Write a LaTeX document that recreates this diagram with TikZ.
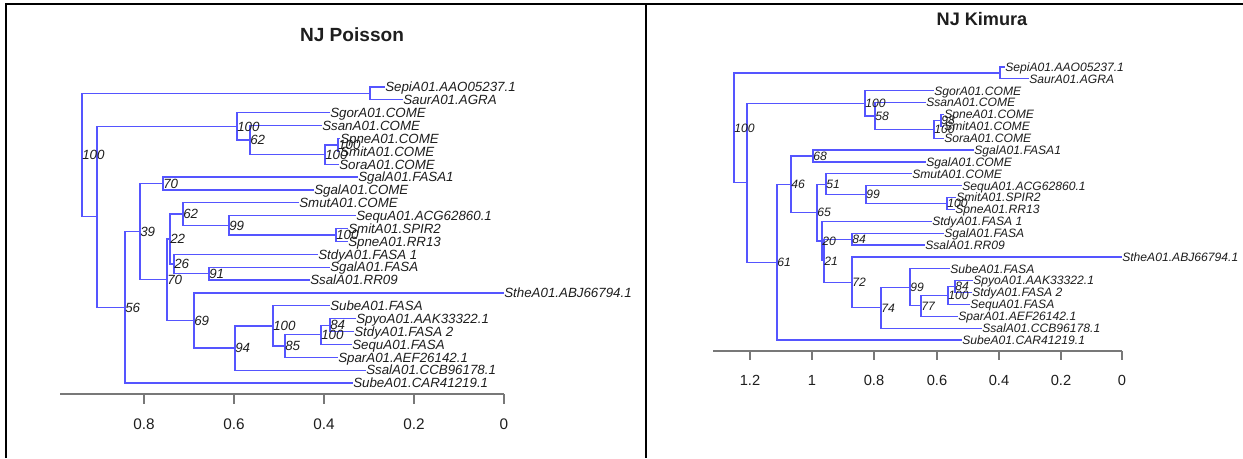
\documentclass[tikz,border=0pt]{standalone}
\usepackage{fontspec}
\setmainfont{Liberation Sans}
\definecolor{brc}{RGB}{85,85,255}
\definecolor{axg}{RGB}{120,120,120}
\definecolor{txt}{RGB}{30,30,30}
\newcommand\LY[1]{87+12.87*#1}
\newcommand\RY[1]{67+11.87*#1}
\tikzset{
  branch/.style={draw=brc, line width=0.9pt},
  tiplab/.style={anchor=west, inner sep=0pt, text height=7.2pt, text depth=0pt,
    font=\fontsize{10}{12}\selectfont\itshape, text=txt},
  bslab/.style={tiplab},
  rtiplab/.style={anchor=west, inner sep=0pt, text height=6.5pt, text depth=0pt,
    font=\fontsize{9.1}{11}\selectfont\itshape, text=txt},
  rbslab/.style={rtiplab},
  ttl/.style={font=\fontsize{14.3}{17}\selectfont\bfseries, text=txt, inner sep=0pt},
  rttl/.style={font=\fontsize{13.6}{16}\selectfont\bfseries, text=txt, inner sep=0pt},
  axlab/.style={font=\fontsize{11.5}{13}\selectfont, text=txt, inner sep=0pt},
  raxlab/.style={font=\fontsize{11}{13}\selectfont, text=txt, inner sep=0pt},
  axline/.style={draw=axg, line width=0.9pt},
  panelframe/.style={draw=black, line width=2pt}
}
\begin{document}
\begin{tikzpicture}[x=0.75pt, y=-0.75pt]
\useasboundingbox (0,0) rectangle (1243,458);
\fill[white] (0,0) rectangle (1243,458);
% frame
\draw[panelframe] (6,458) -- (6,4) -- (1243,4);
\draw[panelframe] (646,4) -- (646,458);

% ================= LEFT: NJ Poisson =================
\node[ttl] (ltitle) at (352,35) {NJ Poisson};
\coordinate (lR) at (82,{\LY{5.2954}});
\coordinate (lA) at (370,{\LY{0.5}});
\coordinate (lB) at (97,{\LY{10.0908}});
\coordinate (lC) at (237,{\LY{3.0625}});
\coordinate (lD) at (250,{\LY{4.125}});
\coordinate (lE) at (325,{\LY{5.25}});
\coordinate (lF) at (338,{\LY{4.5}});
\coordinate (lG) at (125,{\LY{17.1191}});
\coordinate (lH) at (140,{\LY{11.2383}});
\coordinate (lI) at (163,{\LY{7.5}});
\coordinate (lJ) at (167,{\LY{14.9766}});
\coordinate (lK) at (170,{\LY{11.8125}});
\coordinate (lM) at (183,{\LY{9.875}});
\coordinate (lO) at (229,{\LY{10.75}});
\coordinate (lP) at (336,{\LY{11.5}});
\coordinate (lN) at (174,{\LY{13.75}});
\coordinate (lQ) at (209,{\LY{14.5}});
\coordinate (lL) at (194,{\LY{18.1406}});
\coordinate (lS) at (235,{\LY{20.2813}});
\coordinate (lT) at (273,{\LY{18.5625}});
\coordinate (lU) at (285,{\LY{20.125}});
\coordinate (lV) at (321,{\LY{19.25}});
\coordinate (lW) at (330,{\LY{18.5}});

\node[tiplab] (lt0) at (385,{\LY{0}}) {SepiA01.AAO05237.1};
\node[tiplab] (lt1) at (403,{\LY{1}}) {SaurA01.AGRA};
\node[tiplab] (lt2) at (330,{\LY{2}}) {SgorA01.COME};
\node[tiplab] (lt3) at (322,{\LY{3}}) {SsanA01.COME};
\node[tiplab] (lt4) at (340,{\LY{4}}) {SpneA01.COME};
\node[tiplab] (lt5) at (340,{\LY{5}}) {SmitA01.COME};
\node[tiplab] (lt6) at (339,{\LY{6}}) {SoraA01.COME};
\node[tiplab] (lt7) at (358,{\LY{7}}) {SgalA01.FASA1};
\node[tiplab] (lt8) at (314,{\LY{8}}) {SgalA01.COME};
\node[tiplab] (lt9) at (299,{\LY{9}}) {SmutA01.COME};
\node[tiplab] (lt10) at (356,{\LY{10}}) {SequA01.ACG62860.1};
\node[tiplab] (lt11) at (348,{\LY{11}}) {SmitA01.SPIR2};
\node[tiplab] (lt12) at (348,{\LY{12}}) {SpneA01.RR13};
\node[tiplab] (lt13) at (318,{\LY{13}}) {StdyA01.FASA 1};
\node[tiplab] (lt14) at (330,{\LY{14}}) {SgalA01.FASA};
\node[tiplab] (lt15) at (310,{\LY{15}}) {SsalA01.RR09};
\node[tiplab] (lt16) at (504,{\LY{16}}) {StheA01.ABJ66794.1};
\node[tiplab] (lt17) at (330,{\LY{17}}) {SubeA01.FASA};
\node[tiplab] (lt18) at (356,{\LY{18}}) {SpyoA01.AAK33322.1};
\node[tiplab] (lt19) at (354,{\LY{19}}) {StdyA01.FASA 2};
\node[tiplab] (lt20) at (352,{\LY{20}}) {SequA01.FASA};
\node[tiplab] (lt21) at (338,{\LY{21}}) {SparA01.AEF26142.1};
\node[tiplab] (lt22) at (366,{\LY{22}}) {SsalA01.CCB96178.1};
\node[tiplab] (lt23) at (353,{\LY{23}}) {SubeA01.CAR41219.1};

\draw[branch] (lR) |- (lA);  \draw[branch] (lR) |- (lB);
\draw[branch] (lA) |- (lt0.west); \draw[branch] (lA) |- (lt1.west);
\draw[branch] (lB) |- (lC);  \draw[branch] (lB) |- (lG);
\draw[branch] (lC) |- (lt2.west); \draw[branch] (lC) |- (lD);
\draw[branch] (lD) |- (lt3.west); \draw[branch] (lD) |- (lE);
\draw[branch] (lE) |- (lF);  \draw[branch] (lE) |- (lt6.west);
\draw[branch] (lF) |- (lt4.west); \draw[branch] (lF) |- (lt5.west);
\draw[branch] (lG) |- (lH);  \draw[branch] (lG) |- (lt23.west);
\draw[branch] (lH) |- (lI);  \draw[branch] (lH) |- (lJ);
\draw[branch] (lI) |- (lt7.west); \draw[branch] (lI) |- (lt8.west);
\draw[branch] (lJ) |- (lK);  \draw[branch] (lJ) |- (lL);
\draw[branch] (lK) |- (lM);  \draw[branch] (lK) |- (lN);
\draw[branch] (lM) |- (lt9.west); \draw[branch] (lM) |- (lO);
\draw[branch] (lO) |- (lt10.west); \draw[branch] (lO) |- (lP);
\draw[branch] (lP) |- (lt11.west); \draw[branch] (lP) |- (lt12.west);
\draw[branch] (lN) |- (lt13.west); \draw[branch] (lN) |- (lQ);
\draw[branch] (lQ) |- (lt14.west); \draw[branch] (lQ) |- (lt15.west);
\draw[branch] (lL) |- (lt16.west); \draw[branch] (lL) |- (lS);
\draw[branch] (lS) |- (lT);  \draw[branch] (lS) |- (lt22.west);
\draw[branch] (lT) |- (lt17.west); \draw[branch] (lT) |- (lU);
\draw[branch] (lU) |- (lV);  \draw[branch] (lU) |- (lt21.west);
\draw[branch] (lV) |- (lW);  \draw[branch] (lV) |- (lt20.west);
\draw[branch] (lW) |- (lt18.west); \draw[branch] (lW) |- (lt19.west);

\node[bslab] (lbR) at (lR) {100};
\node[bslab] (lbC) at (lC) {100};
\node[bslab] (lbD) at (lD) {62};
\node[bslab] (lbE) at (lE) {100};
\node[bslab] (lbF) at (lF) {100};
\node[bslab] (lbG) at (lG) {56};
\node[bslab] (lbH) at (lH) {39};
\node[bslab] (lbI) at (lI) {70};
\node[bslab] (lbJ) at (lJ) {70};
\node[bslab] (lbK) at (lK) {22};
\node[bslab] (lbM) at (lM) {62};
\node[bslab] (lbO) at (lO) {99};
\node[bslab] (lbP) at (lP) {100};
\node[bslab] (lbN) at (lN) {26};
\node[bslab] (lbQ) at (lQ) {91};
\node[bslab] (lbL) at (lL) {69};
\node[bslab] (lbS) at (lS) {94};
\node[bslab] (lbT) at (lT) {100};
\node[bslab] (lbU) at (lU) {85};
\node[bslab] (lbV) at (lV) {100};
\node[bslab] (lbW) at (lW) {84};

% left axis
\draw[axline] (60,394) -- (504,394);
\foreach \xx/\lab/\nm in {144/0.8/a,234/0.6/b,324/0.4/c,414/0.2/d,504/0/e}{
  \draw[axline] (\xx,394) -- (\xx,404);
  \node[axlab] (lax\nm) at (\xx,424) {\lab};
}

% ================= RIGHT: NJ Kimura =================
\node[rttl] (rtitle) at (982,19) {NJ Kimura};
\coordinate (rR) at (734,{\RY{5.1261}});
\coordinate (rA) at (1000,{\RY{0.5}});
\coordinate (rB) at (747,{\RY{9.7522}});
\coordinate (rC) at (865,{\RY{3.0625}});
\coordinate (rD) at (875,{\RY{4.125}});
\coordinate (rE) at (934,{\RY{5.25}});
\coordinate (rF) at (941,{\RY{4.5}});
\coordinate (rG) at (777,{\RY{16.4419}});
\coordinate (rH) at (791,{\RY{9.8838}});
\coordinate (rI) at (813,{\RY{7.5}});
\coordinate (rJ) at (817,{\RY{12.2676}});
\coordinate (rK) at (826,{\RY{9.875}});
\coordinate (rM) at (866,{\RY{10.75}});
\coordinate (rN) at (947,{\RY{11.5}});
\coordinate (rL) at (822,{\RY{14.6602}});
\coordinate (rO) at (824,{\RY{16.3203}});
\coordinate (rP) at (852,{\RY{14.5}});
\coordinate (rQ) at (852,{\RY{18.1406}});
\coordinate (rX) at (881,{\RY{20.2813}});
\coordinate (rS) at (910,{\RY{18.5625}});
\coordinate (rT) at (921,{\RY{20.125}});
\coordinate (rU) at (948,{\RY{19.25}});
\coordinate (rV) at (955,{\RY{18.5}});

\node[rtiplab] (rt0) at (1005,{\RY{0}}) {SepiA01.AAO05237.1};
\node[rtiplab] (rt1) at (1029,{\RY{1}}) {SaurA01.AGRA};
\node[rtiplab] (rt2) at (934,{\RY{2}}) {SgorA01.COME};
\node[rtiplab] (rt3) at (926,{\RY{3}}) {SsanA01.COME};
\node[rtiplab] (rt4) at (944,{\RY{4}}) {SpneA01.COME};
\node[rtiplab] (rt5) at (944,{\RY{5}}) {SmitA01.COME};
\node[rtiplab] (rt6) at (944,{\RY{6}}) {SoraA01.COME};
\node[rtiplab] (rt7) at (974,{\RY{7}}) {SgalA01.FASA1};
\node[rtiplab] (rt8) at (926,{\RY{8}}) {SgalA01.COME};
\node[rtiplab] (rt9) at (912,{\RY{9}}) {SmutA01.COME};
\node[rtiplab] (rt10) at (962,{\RY{10}}) {SequA01.ACG62860.1};
\node[rtiplab] (rt11) at (956,{\RY{11}}) {SmitA01.SPIR2};
\node[rtiplab] (rt12) at (955,{\RY{12}}) {SpneA01.RR13};
\node[rtiplab] (rt13) at (932,{\RY{13}}) {StdyA01.FASA 1};
\node[rtiplab] (rt14) at (944,{\RY{14}}) {SgalA01.FASA};
\node[rtiplab] (rt15) at (925,{\RY{15}}) {SsalA01.RR09};
\node[rtiplab] (rt16) at (1122,{\RY{16}}) {StheA01.ABJ66794.1};
\node[rtiplab] (rt17) at (950,{\RY{17}}) {SubeA01.FASA};
\node[rtiplab] (rt18) at (973,{\RY{18}}) {SpyoA01.AAK33322.1};
\node[rtiplab] (rt19) at (972,{\RY{19}}) {StdyA01.FASA 2};
\node[rtiplab] (rt20) at (970,{\RY{20}}) {SequA01.FASA};
\node[rtiplab] (rt21) at (958,{\RY{21}}) {SparA01.AEF26142.1};
\node[rtiplab] (rt22) at (982,{\RY{22}}) {SsalA01.CCB96178.1};
\node[rtiplab] (rt23) at (962,{\RY{23}}) {SubeA01.CAR41219.1};

\draw[branch] (rR) |- (rA);  \draw[branch] (rR) |- (rB);
\draw[branch] (rA) |- (rt0.west); \draw[branch] (rA) |- (rt1.west);
\draw[branch] (rB) |- (rC);  \draw[branch] (rB) |- (rG);
\draw[branch] (rC) |- (rt2.west); \draw[branch] (rC) |- (rD);
\draw[branch] (rD) |- (rt3.west); \draw[branch] (rD) |- (rE);
\draw[branch] (rE) |- (rF);  \draw[branch] (rE) |- (rt6.west);
\draw[branch] (rF) |- (rt4.west); \draw[branch] (rF) |- (rt5.west);
\draw[branch] (rG) |- (rH);  \draw[branch] (rG) |- (rt23.west);
\draw[branch] (rH) |- (rI);  \draw[branch] (rH) |- (rJ);
\draw[branch] (rI) |- (rt7.west); \draw[branch] (rI) |- (rt8.west);
\draw[branch] (rJ) |- (rK);  \draw[branch] (rJ) |- (rL);
\draw[branch] (rK) |- (rt9.west); \draw[branch] (rK) |- (rM);
\draw[branch] (rM) |- (rt10.west); \draw[branch] (rM) |- (rN);
\draw[branch] (rN) |- (rt11.west); \draw[branch] (rN) |- (rt12.west);
\draw[branch] (rL) |- (rt13.west); \draw[branch] (rL) |- (rO);
\draw[branch] (rO) |- (rP);  \draw[branch] (rO) |- (rQ);
\draw[branch] (rP) |- (rt14.west); \draw[branch] (rP) |- (rt15.west);
\draw[branch] (rQ) |- (rt16.west); \draw[branch] (rQ) |- (rX);
\draw[branch] (rX) |- (rS);  \draw[branch] (rX) |- (rt22.west);
\draw[branch] (rS) |- (rt17.west); \draw[branch] (rS) |- (rT);
\draw[branch] (rT) |- (rU);  \draw[branch] (rT) |- (rt21.west);
\draw[branch] (rU) |- (rV);  \draw[branch] (rU) |- (rt20.west);
\draw[branch] (rV) |- (rt18.west); \draw[branch] (rV) |- (rt19.west);

\node[rbslab] (rbR) at (rR) {100};
\node[rbslab] (rbC) at (rC) {100};
\node[rbslab] (rbD) at (rD) {58};
\node[rbslab] (rbE) at (rE) {100};
\node[rbslab] (rbF) at (rF) {98};
\node[rbslab] (rbG) at (rG) {61};
\node[rbslab] (rbH) at (rH) {46};
\node[rbslab] (rbI) at (rI) {68};
\node[rbslab] (rbJ) at (rJ) {65};
\node[rbslab] (rbK) at (rK) {51};
\node[rbslab] (rbM) at (rM) {99};
\node[rbslab] (rbN) at (rN) {100};
\node[rbslab] (rbL) at (rL) {20};
\node[rbslab] (rbO) at (rO) {21};
\node[rbslab] (rbP) at (rP) {84};
\node[rbslab] (rbQ) at (rQ) {72};
\node[rbslab] (rbX) at (rX) {74};
\node[rbslab] (rbS) at (rS) {99};
\node[rbslab] (rbT) at (rT) {77};
\node[rbslab] (rbU) at (rU) {100};
\node[rbslab] (rbV) at (rV) {84};

% right axis
\draw[axline] (713,351) -- (1122,351);
\foreach \xx/\lab/\nm in {750/1.2/a,812/1/b,874/0.8/c,937/0.6/d,999/0.4/e,1061/0.2/f,1122/0/g}{
  \draw[axline] (\xx,351) -- (\xx,360);
  \node[raxlab] (rax\nm) at (\xx,380) {\lab};
}
\end{tikzpicture}
\end{document}
